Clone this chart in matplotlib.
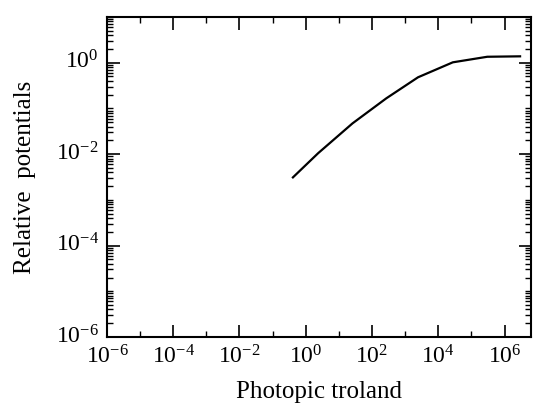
import numpy as np
import matplotlib
matplotlib.use('Agg')
import matplotlib.pyplot as plt
import matplotlib.transforms as mtransforms
from matplotlib.ticker import LogLocator, FixedLocator, NullFormatter

plt.rcParams['font.family'] = ['Liberation Serif', 'DejaVu Serif']
plt.rcParams['mathtext.fontset'] = 'stix'

# --- data (log-log curve) ---
troland = [0.41, 2.37, 25.7, 269, 2450, 27500, 302000, 2950000]
potential = [0.0031, 0.0105, 0.047, 0.166, 0.48, 1.02, 1.35, 1.38]

x_ticks = [1e-6, 1e-4, 1e-2, 1e0, 1e2, 1e4, 1e6]
y_ticks = [1e-6, 1e-4, 1e-2, 1e0]

fig = plt.figure(figsize=(5.36, 4.03), dpi=100)
ax = fig.add_axes([0.1996, 0.1638, 0.7911, 0.7940])

ax.plot(troland, potential, color='black', linewidth=1.6)

ax.set_xscale('log')
ax.set_yscale('log')
ax.set_xlim(1e-6, 10 ** 6.8)
ax.set_ylim(1e-6, 1e1)

def sup(v):
    return r'$\mathregular{10^{%d}}$' % int(round(np.log10(v)))

ax.xaxis.set_major_locator(FixedLocator(x_ticks))
ax.set_xticklabels([sup(v) for v in x_ticks])
ax.yaxis.set_major_locator(FixedLocator(y_ticks))
ax.set_yticklabels([sup(v) for v in y_ticks])

# every decade gets a long tick, minor ticks in between
dec_x = [10.0 ** k for k in range(-6, 7)]
dec_y = [10.0 ** k for k in range(-6, 2)]
ax.xaxis.set_minor_locator(FixedLocator(
    list(LogLocator(base=10, subs=np.arange(2, 10)).tick_values(1e-6, 1e7)) +
    [d for d in dec_x if d not in x_ticks]))
ax.yaxis.set_minor_locator(FixedLocator(
    list(LogLocator(base=10, subs=np.arange(2, 10)).tick_values(1e-6, 1e1)) +
    [d for d in dec_y if d not in y_ticks]))
ax.xaxis.set_minor_formatter(NullFormatter())
ax.yaxis.set_minor_formatter(NullFormatter())

ax.tick_params(which='both', direction='in', top=True, right=True, color='black')
ax.tick_params(which='major', length=9, width=1.2, labelsize=17)
ax.tick_params(axis='x', which='major', pad=6)
ax.tick_params(axis='y', which='major', pad=6)
ax.tick_params(which='minor', length=4, width=1.0)
for s in ax.spines.values():
    s.set_linewidth(1.5)

# y tick labels sit a little above their ticks in the original
shift = mtransforms.ScaledTranslation(0, 3 / 100, fig.dpi_scale_trans)
for lab in ax.get_yticklabels():
    lab.set_transform(lab.get_transform() + shift)

ax.set_xlabel('Photopic troland', fontsize=18, labelpad=9)
ax.set_ylabel('Relative  potentials', fontsize=18, labelpad=14)

fig.savefig('out.png', dpi=100)
